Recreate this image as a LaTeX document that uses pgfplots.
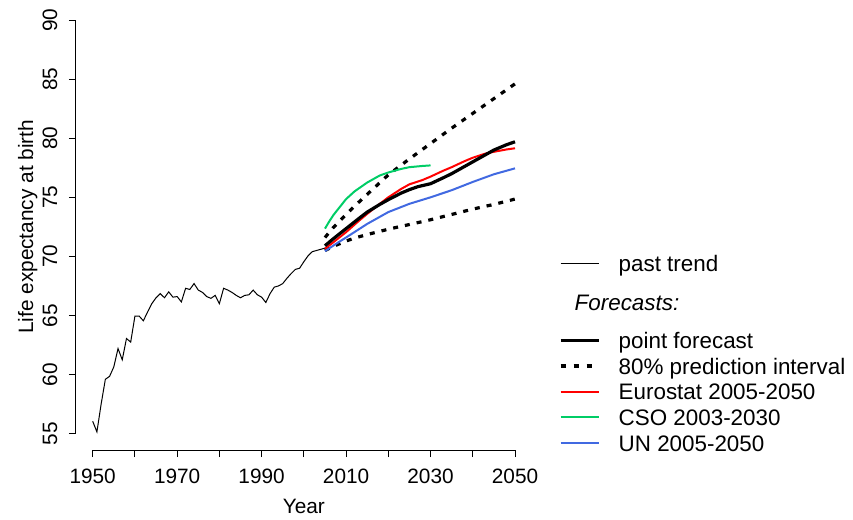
\documentclass[border=0pt]{standalone}
\usepackage{fontspec}
\setmainfont{Liberation Sans}
\usepackage{pgfplots}
\pgfplotsset{compat=1.18}

\definecolor{eurored}{RGB}{255,0,0}
\definecolor{csogreen}{RGB}{0,205,102}
\definecolor{unblue}{RGB}{65,105,225}

% observed life expectancy 1950-2005
\pgfplotstableread{
year le
1950 56.05
1951 55.15
1952 57.50
1953 59.60
1954 59.85
1955 60.65
1956 62.20
1957 61.25
1958 63.05
1959 62.75
1960 64.95
1961 64.95
1962 64.55
1963 65.30
1964 66.00
1965 66.50
1966 66.85
1967 66.50
1968 67.00
1969 66.55
1970 66.60
1971 66.15
1972 67.30
1973 67.20
1974 67.70
1975 67.15
1976 66.95
1977 66.60
1978 66.45
1979 66.70
1980 66.00
1981 67.30
1982 67.15
1983 66.95
1984 66.70
1985 66.50
1986 66.70
1987 66.75
1988 67.15
1989 66.75
1990 66.55
1991 66.10
1992 66.85
1993 67.40
1994 67.50
1995 67.70
1996 68.15
1997 68.55
1998 68.90
1999 69.00
2000 69.55
2001 70.05
2002 70.40
2003 70.50
2004 70.60
2005 70.70
}\past

\pgfplotstableread{
year le
2005 70.90
2007 71.50
2010 72.35
2013 73.20
2015 73.75
2018 74.40
2020 74.80
2023 75.35
2025 75.65
2027 75.90
2030 76.15
2033 76.65
2035 77.00
2038 77.60
2040 78.00
2043 78.60
2045 79.00
2048 79.45
2050 79.70
}\point

\pgfplotstableread{
year lo hi
2005 70.50 71.60
2007 70.85 72.45
2010 71.30 73.55
2012 71.55 74.25
2015 71.85 75.25
2020 72.30 76.90
2025 72.70 78.25
2030 73.10 79.55
2035 73.55 80.85
2040 74.00 82.10
2045 74.40 83.35
2050 74.85 84.60
}\band

\pgfplotstableread{
year le
2005 70.65
2007 71.20
2010 72.05
2013 73.00
2015 73.60
2018 74.45
2020 75.00
2023 75.70
2025 76.10
2028 76.45
2030 76.75
2033 77.25
2035 77.55
2038 78.05
2040 78.35
2043 78.70
2045 78.85
2048 79.05
2050 79.15
}\eurostat

\pgfplotstableread{
year le
2005 72.35
2006 72.95
2007 73.50
2008 73.95
2010 74.85
2012 75.50
2015 76.25
2018 76.85
2020 77.10
2023 77.40
2025 77.55
2028 77.65
2030 77.70
}\cso

\pgfplotstableread{
year le
2005 70.45
2008 71.15
2010 71.60
2015 72.75
2020 73.75
2025 74.45
2030 75.00
2035 75.60
2040 76.30
2045 76.95
2050 77.45
}\un

\begin{document}
\begin{tikzpicture}
\begin{axis}[
    name=ax,
    scale only axis,
    width=228.05pt, height=223.35pt,
    xmin=1946, xmax=2054, ymin=53.6, ymax=91.4,
    axis line style={draw=none},
    tick align=outside,
    xtick pos=left, ytick pos=left,
    major tick length=3.5pt,
    tick style={black, line width=0.5pt},
    xtick={1950,1960,...,2050},
    xticklabels={1950,,1970,,1990,,2010,,2030,,2050},
    ytick={55,60,...,90},
    /pgf/number format/assume math mode=true,
    ticklabel style={font=\fontsize{10.4}{12}\selectfont, inner sep=0pt},
    xticklabel style={anchor=north},
    yticklabel style={rotate=90, anchor=south},
    xticklabel shift=5.8pt,
    yticklabel shift=5.5pt,
    xlabel={Year},
    ylabel={Life expectancy at birth},
    label style={font=\fontsize{10.4}{12}\selectfont, inner sep=0pt},
    xlabel style={at={(axis description cs:0.5,-0.1406)}, anchor=base},
    ylabel style={at={(axis description cs:-0.0938,0.5)}, anchor=base},
    clip=false,
]
\draw[line width=0.5pt] (axis cs:1950,53.6) -- (axis cs:2050,53.6);
\draw[line width=0.5pt] (axis cs:1946,55) -- (axis cs:1946,90);

\addplot[black, line width=0.5pt] table[x=year, y=le] {\past};
\addplot[black, line width=1.6pt, dash pattern=on 2.5pt off 3.5pt] table[x=year, y=hi] {\band};
\addplot[black, line width=1.6pt, dash pattern=on 2.5pt off 3.5pt] table[x=year, y=lo] {\band};
\addplot[unblue, line width=1pt] table[x=year, y=le] {\un};
\addplot[csogreen, line width=1pt] table[x=year, y=le] {\cso};
\addplot[eurored, line width=1pt] table[x=year, y=le] {\eurostat};
\addplot[black, line width=1.6pt] table[x=year, y=le] {\point};
\end{axis}

% legend outside the plot region
\begin{scope}[shift={(ax.south west)}, font=\fontsize{11.2}{13}\selectfont]
  \def\lx{242.45pt}\def\rx{261.75pt}\def\tx{271.25pt}
  \draw[black, line width=0.5pt] (\lx,93.45pt) -- (\rx,93.45pt);
  \node[anchor=base west, inner sep=0pt] at (\tx,89.35pt) {past trend};
  \node[anchor=base west, inner sep=0pt] at (249.25pt,70.08pt) {\itshape Forecasts:};
  \draw[black, line width=1.6pt] (\lx,54.90pt) -- (\rx,54.90pt);
  \node[anchor=base west, inner sep=0pt] at (\tx,50.80pt) {point forecast};
  \draw[black, line width=1.6pt, dash pattern=on 2.5pt off 4pt] (\lx,42.05pt) -- (\rx,42.05pt);
  \node[anchor=base west, inner sep=0pt] at (\tx,37.95pt) {80\% prediction interval};
  \draw[eurored, line width=1pt] (\lx,29.20pt) -- (\rx,29.20pt);
  \node[anchor=base west, inner sep=0pt] at (\tx,25.10pt) {Eurostat 2005-2050};
  \draw[csogreen, line width=1pt] (\lx,16.35pt) -- (\rx,16.35pt);
  \node[anchor=base west, inner sep=0pt] at (\tx,12.25pt) {CSO 2003-2030};
  \draw[unblue, line width=1pt] (\lx,3.50pt) -- (\rx,3.50pt);
  \node[anchor=base west, inner sep=0pt] at (\tx,-0.60pt) {UN 2005-2050};
\end{scope}

\pgfresetboundingbox
\path[use as bounding box] (ax.south west) ++(-37.9pt,-34.9pt) rectangle ++(426.5pt,260pt);
\end{tikzpicture}
\end{document}
